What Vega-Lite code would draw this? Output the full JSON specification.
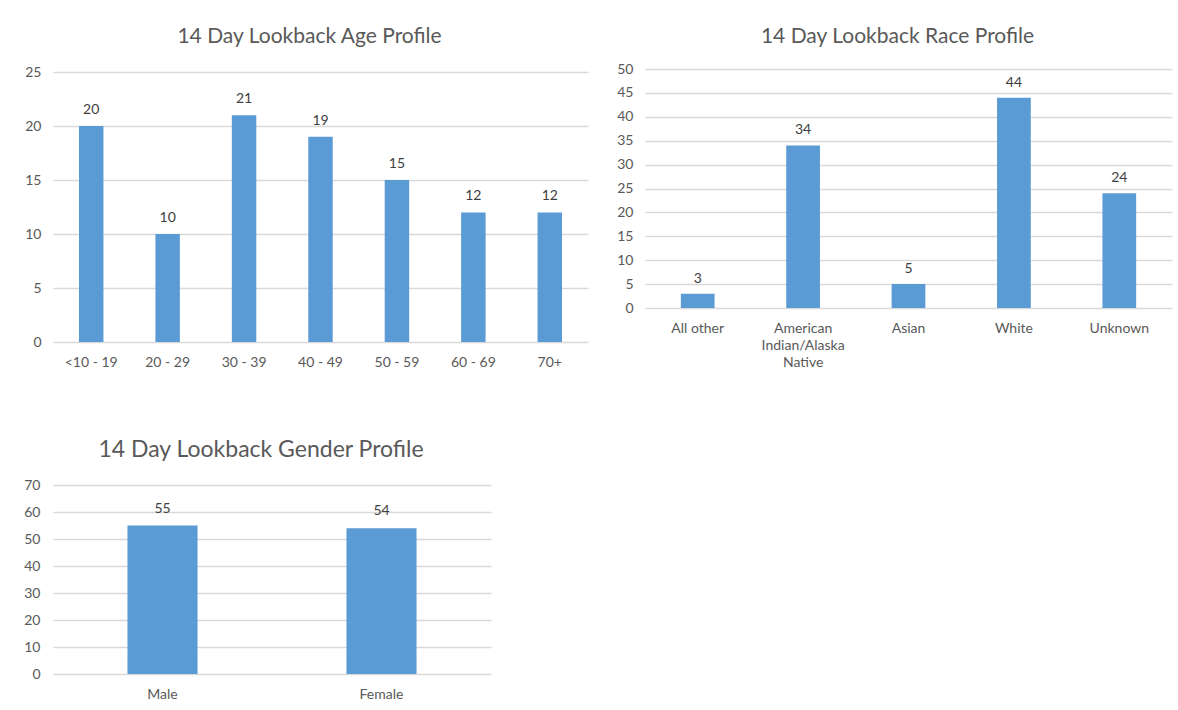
{
  "$schema": "https://vega.github.io/schema/vega-lite/v6.json",
  "autosize": {"type": "pad"},
  "padding": {"left": 23, "top": 26, "right": 5, "bottom": 5},
  "background": "white",
  "config": {
    "font": "Lato",
    "view": {"stroke": null},
    "title": {"fontSize": 21, "fontWeight": "normal", "color": "#595959", "dx": -11},
    "axis": {"labelColor": "#595959", "labelFontSize": 14, "domain": false, "ticks": false, "gridColor": "#D9D9D9", "gridWidth": 1.3, "title": null},
    "bar": {"color": "#5B9BD5"},
    "text": {"color": "#404040", "fontSize": 14}
  },
  "bounds": "flush",
  "spacing": 416,
  "vconcat": [
    {
      "bounds": "flush",
      "spacing": 57,
      "hconcat": [
        {
          "title": {"text": "14 Day Lookback Age Profile", "offset": 18},
          "width": 535,
          "height": 273,
          "data": {"values": [
            {"age": "<10 - 19", "count": 20},
            {"age": "20 - 29", "count": 10},
            {"age": "30 - 39", "count": 21},
            {"age": "40 - 49", "count": 19},
            {"age": "50 - 59", "count": 15},
            {"age": "60 - 69", "count": 12},
            {"age": "70+", "count": 12}
          ]},
          "encoding": {
            "x": {"field": "age", "type": "nominal", "sort": null, "scale": {"paddingInner": 0.68, "paddingOuter": 0.34}, "axis": {"labelAngle": 0, "labelPadding": 13, "grid": false}},
            "y": {"field": "count", "type": "quantitative", "scale": {"domain": [0, 25.28], "nice": false}, "axis": {"values": [0, 5, 10, 15, 20, 25], "labelPadding": 12}}
          },
          "layer": [
            {"mark": "bar"},
            {"mark": {"type": "text", "baseline": "middle", "dy": -16}, "encoding": {"text": {"field": "count"}}}
          ]
        },
        {
          "title": {"text": "14 Day Lookback Race Profile", "offset": 15},
          "width": 527,
          "height": 239,
          "data": {"values": [
            {"race": "All other", "count": 3},
            {"race": "American Indian/Alaska Native", "count": 34},
            {"race": "Asian", "count": 5},
            {"race": "White", "count": 44},
            {"race": "Unknown", "count": 24}
          ]},
          "encoding": {
            "x": {"field": "race", "type": "nominal", "sort": null, "scale": {"paddingInner": 0.68, "paddingOuter": 0.34}, "axis": {"labelAngle": 0, "labelPadding": 13, "grid": false, "labelLineHeight": 17, "labelExpr": "datum.label == 'American Indian/Alaska Native' ? ['American', 'Indian/Alaska', 'Native'] : datum.label"}},
            "y": {"field": "count", "type": "quantitative", "scale": {"domain": [0, 50], "nice": false}, "axis": {"values": [0, 5, 10, 15, 20, 25, 30, 35, 40, 45, 50], "labelPadding": 12}}
          },
          "layer": [
            {"mark": "bar"},
            {"mark": {"type": "text", "baseline": "middle", "dy": -15}, "encoding": {"text": {"field": "count"}}}
          ]
        }
      ]
    },
    {
      "title": {"text": "14 Day Lookback Gender Profile", "offset": 16, "fontSize": 23},
      "width": 438,
      "height": 189,
      "data": {"values": [
        {"gender": "Male", "count": 55},
        {"gender": "Female", "count": 54}
      ]},
      "encoding": {
        "x": {"field": "gender", "type": "nominal", "sort": null, "scale": {"paddingInner": 0.68, "paddingOuter": 0.34}, "axis": {"labelAngle": 0, "labelPadding": 13, "grid": false}},
        "y": {"field": "count", "type": "quantitative", "scale": {"domain": [0, 70], "nice": false}, "axis": {"values": [0, 10, 20, 30, 40, 50, 60, 70], "labelPadding": 13}}
      },
      "layer": [
        {"mark": "bar"},
        {"mark": {"type": "text", "baseline": "middle", "dy": -17}, "encoding": {"text": {"field": "count"}}}
      ]
    }
  ]
}
